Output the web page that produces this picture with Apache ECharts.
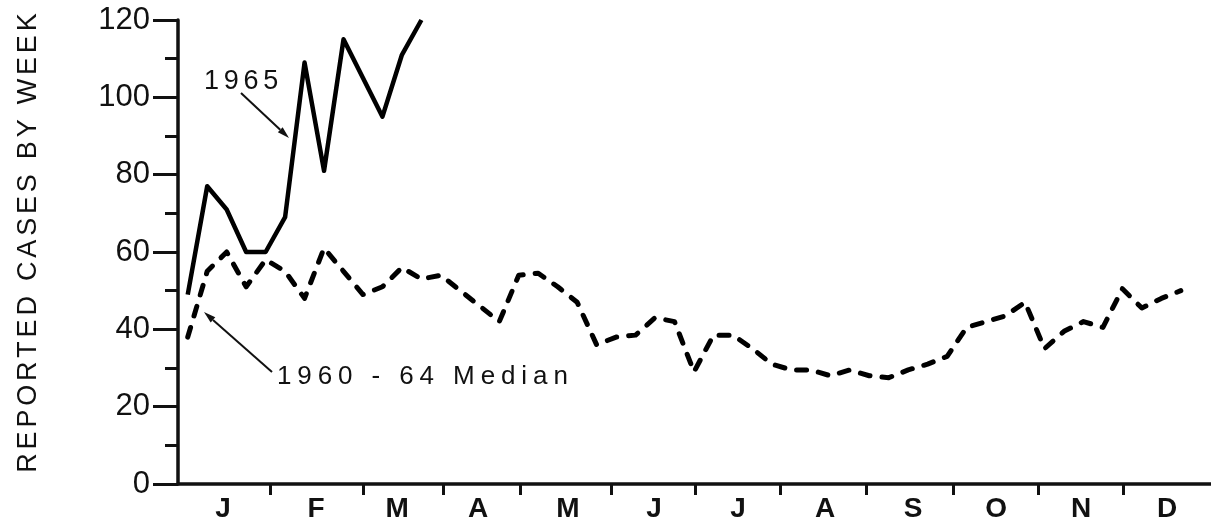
<!DOCTYPE html>
<html>
<head>
<meta charset="utf-8">
<script src="https://cdn.jsdelivr.net/npm/echarts@6/dist/echarts.min.js"></script>
<style>
html,body{margin:0;padding:0;background:#fff;}
#c{width:1211px;height:526px;}
</style>
</head>
<body>
<div id="c"></div>
<script>
// ---- data (x in weeks; week i is plotted at its midpoint i + 0.5) ----
const cases1965 = [49, 77, 71, 60, 60, 69, 109, 81, 115, 105, 95, 111, 120];
const median6064 = [38, 55, 60, 51, 58, 55, 48, 61, 55, 49, 51, 56, 53, 54, 50, 46, 42, 54, 54.5, 51,
  47, 36, 38, 38.5, 43, 42, 29, 38.5, 38.5, 35, 31, 29.5, 29.5, 28, 29.5, 28, 27.5, 29.5, 31, 33,
  40.5, 42, 43.5, 47, 35, 39.5, 42, 40.5, 50.5, 45.5, 48, 50];
const monthLabels = ['J','F','M','A','M','J','J','A','S','O','N','D'];
const monthCenters = [2.31, 7.09, 11.25, 15.41, 20.03, 24.45, 28.76, 33.23, 37.75, 42.01, 46.38, 50.80];
const monthBoundaries = [4.73, 9.50, 13.61, 17.57, 22.24, 26.55, 30.92, 35.34, 39.80, 44.17, 48.54];
const yTicks = {min: 0, max: 120, interval: 20};

const FONTFAM = '"Liberation Sans", Arial, sans-serif';
const INK = '#111';
const toXY = arr => arr.map((v, i) => [i + 0.5, v]);

const mctx = document.createElement('canvas').getContext('2d');
function spacedText(str, x, y, size, spacing, opt) {
  opt = opt || {};
  const weight = opt.weight || 'normal';
  mctx.font = weight + ' ' + size + 'px ' + FONTFAM;
  const chars = str.split('');
  const widths = chars.map(c => mctx.measureText(c).width);
  const total = widths.reduce((a, b) => a + b, 0) + spacing * (chars.length - 1);
  let off = opt.center ? -total / 2 : 0;
  const children = [];
  chars.forEach((c, i) => {
    if (c !== ' ') {
      children.push({type: 'text', x: off, y: 0,
        style: {text: c, fontSize: size, fontFamily: FONTFAM, fontWeight: weight, fill: INK,
          align: 'left', verticalAlign: 'middle'}});
    }
    off += widths[i] + spacing;
  });
  return {type: 'group', x, y, rotation: opt.rotation || 0, children};
}

function arrow(x1, y1, x2, y2) {
  const dx = x2 - x1, dy = y2 - y1, L = Math.hypot(dx, dy);
  const ux = dx / L, uy = dy / L, hl = 12, hw = 3.5;
  const bx = x2 - ux * hl, by = y2 - uy * hl;
  return [
    {type: 'line', shape: {x1, y1, x2: bx, y2: by}, style: {stroke: INK, lineWidth: 2}},
    {type: 'polygon', shape: {points: [[x2, y2], [bx - uy * hw, by + ux * hw], [bx + uy * hw, by - ux * hw]]},
     style: {fill: INK}}
  ];
}

const chart = echarts.init(document.getElementById('c'), null, {renderer: 'canvas'});
const X_MAX = 53.05;
chart.setOption({
  animation: false,
  backgroundColor: '#fff',
  grid: {left: 178, right: 0, top: 20, bottom: 42, containLabel: false},
  xAxis: [
    {type: 'value', min: 0, max: X_MAX, position: 'bottom',
     axisLine: {show: true, onZero: false, lineStyle: {color: INK, width: 3.5}},
     axisTick: {show: false}, axisLabel: {show: false}, splitLine: {show: false}},
    {type: 'value', min: 0, max: X_MAX, position: 'bottom', offset: 5,
     axisLine: {show: false},
     axisTick: {show: true, customValues: monthBoundaries, length: 11, lineStyle: {color: INK, width: 3}},
     axisLabel: {show: true, customValues: monthCenters, margin: 6,
       fontFamily: FONTFAM, fontSize: 28, fontWeight: 'bold', color: INK,
       formatter: v => {
         const i = monthCenters.findIndex(c => Math.abs(c - v) < 1e-6);
         return i >= 0 ? monthLabels[i] : '';
       }},
     splitLine: {show: false}}
  ],
  yAxis: {
    type: 'value', min: yTicks.min, max: yTicks.max, interval: yTicks.interval,
    axisLine: {show: true, lineStyle: {color: INK, width: 3.5}},
    axisTick: {show: true, length: 25, lineStyle: {color: INK, width: 3}},
    minorTick: {show: true, splitNumber: 2, length: 13, lineStyle: {color: INK, width: 3}},
    axisLabel: {margin: 28, fontFamily: FONTFAM, fontSize: 31, color: INK},
    splitLine: {show: false}, minorSplitLine: {show: false}
  },
  series: [
    {name: '1960-64 Median', type: 'line', xAxisIndex: 0, data: toXY(median6064), symbol: 'none',
     lineStyle: {color: '#000', width: 5, type: [10, 12], cap: 'round', join: 'round'}},
    {name: '1965', type: 'line', xAxisIndex: 0, data: toXY(cases1965), symbol: 'none',
     lineStyle: {color: '#000', width: 4.5, join: 'round'}}
  ],
  graphic: [
    spacedText('REPORTED CASES BY WEEK', 29, 243, 27, 3.8, {center: true, rotation: Math.PI / 2}),
    spacedText('1965', 204, 82, 27, 4.7),
    spacedText('1960 - 64 Median', 277, 377, 26, 5.9),
    ...arrow(241, 93, 289, 138),
    ...arrow(272, 372, 204, 312)
  ]
});
</script>
</body>
</html>
